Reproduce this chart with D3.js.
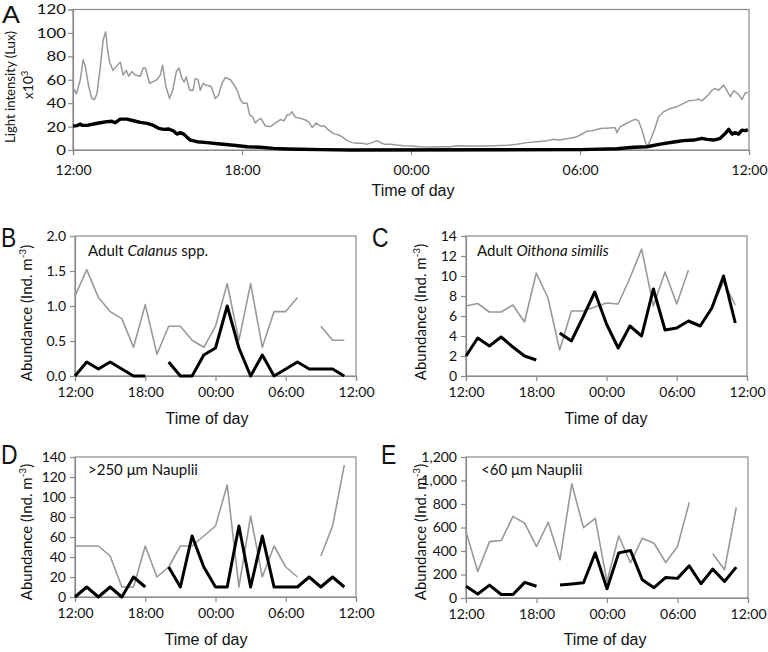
<!DOCTYPE html>
<html><head><meta charset="utf-8">
<script src="https://cdn.jsdelivr.net/npm/d3@7"></script>
<style>body{margin:0;background:#fff}svg{display:block}</style>
</head><body>
<svg id="c" width="768" height="652"></svg>
<script>
// ---------- DATA ----------
const timeTickHours = [0, 6, 12, 18, 24];
const timeTickLabels = ["12:00", "18:00", "00:00", "06:00", "12:00"];

// Panel A: light intensity (x10^3 Lux), hours since 12:00
const lightGrayHours = [0,0.12,0.26,0.36,0.44,0.56,0.67,0.76,0.85,0.97,1.07,1.16,1.23,1.30,1.42,1.56,1.68,1.78,1.89,1.98,2.09,2.21,2.39,2.49,2.57,2.72,2.86,2.98,3.10,3.18,3.30,3.43,3.54,3.67,3.76,3.87,3.95,4.02,4.14,4.26,4.34,4.44,4.52,4.62,4.73,4.82,4.91,5.05,5.17,5.29,5.41,5.59,5.76,5.85,5.94,6.04,6.18,6.27,6.39,6.47,6.59,6.67,6.83,7.01,7.18,7.36,7.50,7.60,7.69,7.78,7.89,8.07,8.25,8.37,8.49,8.64,8.78,8.92,9.08,9.25,9.43,9.55,9.73,9.91,10.08,10.26,10.44,10.62,10.79,10.97,11.05,11.27,11.5,11.74,12.0,12.33,12.69,13.04,13.40,13.63,13.99,14.46,14.93,15.41,15.76,16.12,16.47,16.83,17.07,17.24,17.54,17.83,18.01,18.25,18.43,18.60,18.78,18.96,19.14,19.25,19.31,19.43,19.61,19.79,19.96,20.08,20.2,20.32,20.38,20.50,20.64,20.79,20.97,21.21,21.44,21.68,21.86,22.09,22.21,22.33,22.51,22.69,22.80,22.92,23.10,23.22,23.34,23.46,23.63,23.75,23.87,23.96];
const lightGray = [53.5,48,60,77,71,54,44,43,48,71,94,101,85,75,68,72,75,64,68,63,67,64,63,70,70,57,58.6,60,64,72.5,54,44,51,67,70,61,58,62.5,51,51,61,60,51,57,55,55,54,44,47,57,62,60,54,50,43,40,40,30,28,23,26,27,20.5,20,23,26,25,30,30.4,32.7,28,27,25.6,24,19.3,23,20.5,20.5,17,14,12.8,11.4,8,6.3,5.7,5.7,5,6.3,8,5.7,5,5,4.3,3.7,3.4,2.8,2.6,2.8,2.8,3.7,3.4,3.4,3.7,4,5,6.3,7.1,8,9.1,8.5,9.7,10.8,12.8,16.2,16.5,17.6,18.5,18.5,19,19,14.8,19.9,22.2,24.4,26.2,25,17,7.1,2.8,8.5,17,28.4,32.7,35.5,37,39.8,42,42.6,43.5,42,46,51,52.6,51,55.4,50.6,45.5,50.6,47.5,43.2,48.9,48.9];
const lightBlackHours = [0,0.14,0.26,0.32,0.50,0.73,0.97,1.21,1.38,1.50,1.68,1.92,2.15,2.39,2.63,2.86,3.04,3.22,3.40,3.57,3.69,3.81,3.93,4.05,4.17,4.40,4.76,5.23,5.70,6.18,6.65,7.12,7.60,8.07,8.78,9.85,18.01,19.31,19.91,20.38,20.85,21.33,21.68,22.04,22.33,22.51,22.75,22.98,23.16,23.28,23.40,23.51,23.63,23.75,23.87,23.96];
const lightBlack = [20.5,20.8,22.2,21,21,22.2,23.3,24.2,24.5,23.3,26.4,26.4,25,23.6,22.7,21,18.5,17.6,17.9,16.2,13.6,14.8,13.6,10.8,8.5,7.1,6.3,5.1,4,2.8,2.3,1.4,0.9,0.6,0.3,0,0.3,1.1,2.3,2.8,5,6.8,8,8.5,10,9.1,8.5,10,14.2,17.6,13.6,14.8,13.6,17,16.5,17.6];

// Panels B-E: hourly samples 12:00 ... 11:00 (null = no sample)
const sampleHours = d3.range(24);
const calanusBlack = [0,0.2,0.1,0.2,0.1,0,0,null,0.2,0,0,0.3,0.4,1.0,0.4,0,0.3,0,0.1,0.2,0.1,0.1,0.1,0];
const calanusGray  = [1.14,1.52,1.12,0.92,0.82,0.41,1.02,0.31,0.71,0.71,0.51,0.41,0.71,1.32,0.51,1.32,0.41,0.92,0.92,1.12,null,0.71,0.51,0.51];
const oithonaBlack = [2.0,3.8,3.0,3.9,2.9,2.0,1.6,null,4.3,3.5,5.9,8.4,5.2,2.8,5.0,4.0,8.7,4.6,4.8,5.5,5.0,6.8,10.0,5.3];
const oithonaGray  = [7.0,7.25,6.4,6.4,7.1,5.4,10.3,7.8,2.6,6.5,6.5,6.9,7.3,7.2,9.8,12.7,7.0,10.4,7.2,10.6,null,6.9,9.4,7.1];
const naupLargeBlack = [0,10,0,10,0,20,10,null,30,10,61,30,10,10,71,10,61,10,10,10,20,10,20,10];
const naupLargeGray  = [51,51,51,41,10,10,51,20,30,51,51,61,71,112,10,81,20,51,30,20,null,41,71,132];
const naupSmallBlack = [100,34,110,30,30,133,100,null,110,120,130,384,79,384,404,155,88,175,167,274,121,246,141,263];
const naupSmallGray  = [565,226,480,489,695,636,438,644,325,972,599,678,140,528,300,508,466,302,438,814,null,376,240,771];

const yTicksA = [0,20,40,60,80,100,120];
const yTicksB = [0,0.5,1.0,1.5,2.0];
const yTicksC = [0,2,4,6,8,10,12,14];
const yTicksD = [0,20,40,60,80,100,120,140];
const yTicksE = [0,200,400,600,800,1000,1200];

// ---------- DRAWING ----------
const svg = d3.select("#c");
const TICKFONT = "Lato, 'Open Sans', sans-serif";
const LABFONT = "'Liberation Sans', Arial, sans-serif";
const AXC = "#8a8a8a";

function panel(o) {
  const g = svg.append("g");
  const x = d3.scaleLinear().domain([0, 24]).range([o.l, o.r]);
  const y = d3.scaleLinear().domain([0, o.yTicks[o.yTicks.length - 1]]).range([o.b, o.t]);
  g.append("rect").attr("x", o.l).attr("y", o.t).attr("width", o.r - o.l).attr("height", o.b - o.t)
    .attr("fill", "none").attr("stroke", AXC).attr("stroke-width", 1.2);
  const xa = g.append("g").attr("transform", `translate(0,${o.b})`)
    .call(d3.axisBottom(x).tickValues(timeTickHours).tickSize(5).tickPadding(o.xpad)
      .tickFormat((d, i) => timeTickLabels[i]));
  const ya = g.append("g").attr("transform", `translate(${o.l},0)`)
    .call(d3.axisLeft(y).tickValues(o.yTicks).tickSize(5).tickPadding(o.ypad).tickFormat(o.fmt));
  [xa, ya].forEach(a => {
    a.select(".domain").attr("stroke", AXC).attr("stroke-width", 1.2);
    a.selectAll(".tick line").attr("stroke", AXC).attr("stroke-width", 1.2);
    a.selectAll("text").attr("font-family", TICKFONT).attr("fill", "#111");
  });
  xa.selectAll("text").attr("font-size", o.xfs);
  ya.selectAll("text").attr("font-size", o.yfs);
  if (o.ysx) {
    ya.selectAll(".tick text").attr("transform", `scale(${o.ysx},1)`)
      .attr("x", -(5 + o.ypad) / o.ysx);
  }
  o.series.forEach(s => {
    const pts = s.t.map((t, i) => [t, s.v[i]]);
    g.append("path").datum(pts)
      .attr("fill", "none").attr("stroke", s.c).attr("stroke-width", s.w)
      .attr("stroke-linejoin", "round").attr("stroke-linecap", "butt")
      .attr("d", d3.line().defined(d => d[1] != null).x(d => x(d[0])).y(d => y(d[1])));
  });
  g.append("text").attr("x", o.xlx).attr("y", o.xly).attr("text-anchor", "middle")
    .attr("font-family", LABFONT).attr("font-size", 16).attr("fill", "#111").text("Time of day");
  g.append("text").attr("transform", `translate(${o.lx},${o.ly}) scale(${o.lsx},1)`)
    .attr("font-family", LABFONT).attr("font-size", o.lfs).attr("fill", "#111").text(o.letter);
  return g;
}

function abundanceLabel(g, cx, cy) {
  const t = g.append("text").attr("transform", `translate(${cx},${cy}) rotate(-90)`)
    .attr("text-anchor", "middle").attr("font-family", TICKFONT).attr("font-size", 15).attr("fill", "#111");
  t.append("tspan").text("Abundance (Ind. m");
  t.append("tspan").attr("font-size", 10).attr("dy", -6).text("-3");
  t.append("tspan").attr("dy", 6).text(")");
}

function titleText(g, x0, y0, parts) {
  const t = g.append("text").attr("x", x0).attr("y", y0).attr("font-family", TICKFONT)
    .attr("font-size", 15).attr("fill", "#111");
  parts.forEach(p => t.append("tspan").attr("font-style", p[1] ? "italic" : null).text(p[0]));
}

// Panel A
const gA = panel({l: 73, r: 749, t: 9.5, b: 150, yTicks: yTicksA, fmt: d3.format("d"), xfs: 14, yfs: 14, ysx: 1.2,
  xpad: 10, ypad: 2, xlx: 413, xly: 196, lx: 2, ly: 23, lfs: 24, lsx: 1.12, letter: "A",
  series: [
    {t: lightGrayHours, v: lightGray, c: "#999", w: 1.5},
    {t: lightBlackHours, v: lightBlack, c: "#000", w: 3.4}
  ]});
gA.append("text").attr("transform", "translate(15,87) rotate(-90)").attr("text-anchor", "middle")
  .attr("font-family", TICKFONT).attr("font-size", 14).attr("fill", "#111")
  .attr("textLength", 112).attr("lengthAdjust", "spacingAndGlyphs").text("Light intensity (Lux)");
const x10 = gA.append("text").attr("transform", "translate(33,85) rotate(-90)").attr("text-anchor", "middle")
  .attr("font-family", TICKFONT).attr("font-size", 14).attr("fill", "#111");
x10.append("tspan").text("x10");
x10.append("tspan").attr("font-size", 9).attr("dy", -5).text("3");

// Panel B
const gB = panel({l: 75, r: 356, t: 236, b: 376, yTicks: yTicksB, fmt: d3.format(".1f"), xfs: 14, yfs: 14,
  xpad: 6, ypad: 4, xlx: 207, xly: 424, lx: 1, ly: 247, lfs: 27, lsx: 0.85, letter: "B",
  series: [
    {t: sampleHours, v: calanusGray, c: "#999", w: 1.6},
    {t: sampleHours, v: calanusBlack, c: "#000", w: 3}
  ]});
abundanceLabel(gB, 32, 313);
titleText(gB, 88, 256, [["Adult ", false], ["Calanus", true], [" spp.", false]]);

// Panel C
const gC = panel({l: 466, r: 747, t: 236, b: 376, yTicks: yTicksC, fmt: d3.format("d"), xfs: 14, yfs: 14,
  xpad: 6, ypad: 4, xlx: 606, xly: 424, lx: 372, ly: 247, lfs: 27, lsx: 0.85, letter: "C",
  series: [
    {t: sampleHours, v: oithonaGray, c: "#999", w: 1.6},
    {t: sampleHours, v: oithonaBlack, c: "#000", w: 3}
  ]});
abundanceLabel(gC, 426, 312);
titleText(gC, 477, 256, [["Adult ", false], ["Oithona similis", true]]);

// Panel D
const gD = panel({l: 75, r: 356, t: 457, b: 597, yTicks: yTicksD, fmt: d3.format("d"), xfs: 14, yfs: 14,
  xpad: 6, ypad: 4, xlx: 206, xly: 645, lx: 1, ly: 464, lfs: 27, lsx: 0.85, letter: "D",
  series: [
    {t: sampleHours, v: naupLargeGray, c: "#999", w: 1.6},
    {t: sampleHours, v: naupLargeBlack, c: "#000", w: 3}
  ]});
abundanceLabel(gD, 32, 532);
titleText(gD, 88, 475, [[">250 \u03bcm Nauplii", false]]);

// Panel E
const gE = panel({l: 466, r: 748, t: 457, b: 598, yTicks: yTicksE, fmt: d3.format(","), xfs: 14, yfs: 14,
  xpad: 6, ypad: 4, xlx: 605, xly: 645, lx: 381, ly: 464, lfs: 27, lsx: 0.85, letter: "E",
  series: [
    {t: sampleHours, v: naupSmallGray, c: "#999", w: 1.6},
    {t: sampleHours, v: naupSmallBlack, c: "#000", w: 3}
  ]});
abundanceLabel(gE, 426, 532);
titleText(gE, 481, 475, [["<60 \u03bcm Nauplii", false]]);
</script>
</body></html>
